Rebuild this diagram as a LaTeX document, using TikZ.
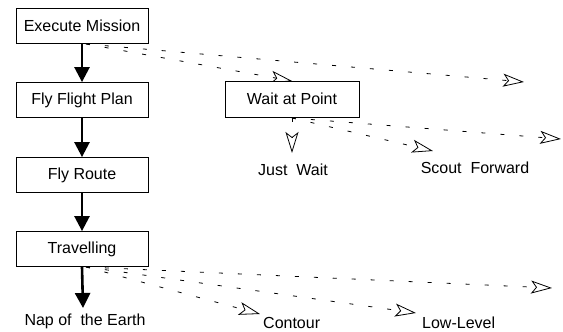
\documentclass[tikz,border=0pt]{standalone}
\usepackage{fontspec}
\setmainfont{Liberation Sans}
\usetikzlibrary{arrows.meta}
\begin{document}
\begin{tikzpicture}[x=1pt,y=-1pt,
  every node/.style={font=\fontsize{16}{19}\selectfont},
  taskbox/.style={draw,line width=0.8pt,fill=white,minimum width=132pt,minimum height=35pt,inner sep=0pt},
  seqarrow/.style={line width=2.6pt,-{Triangle[length=15pt,width=15pt]}},
  optarrow/.style={line width=0.8pt,dash pattern=on 4pt off 15pt,
    -{Stealth[open,length=21pt,width=13pt,inset=5pt,line width=0.8pt,sep=0pt]}},
  lbl/.style={inner sep=0pt}]
\useasboundingbox (0,0) rectangle (563,332);

% anchor points of the dashed option arrows
\coordinate (em-o) at (86,44);
\coordinate (tr-o) at (86,267);
\coordinate (wp-o) at (292,118);
\coordinate (em-far) at (524,82);
\coordinate (wp-far) at (561,139);
\coordinate (sf-tip) at (433,151);
\coordinate (jw-tip) at (292,153);
\coordinate (tr-far) at (552,288);
\coordinate (ll-tip) at (416,313);
\coordinate (ct-tip) at (260,314);
\coordinate (ne-tip) at (83,308);

% dashed option arrows (drawn first so boxes sit on top)
\draw[optarrow] (em-o) -- (em-far);
\draw[optarrow] (em-o) -- (292,81);
\draw[optarrow] (wp-o) -- (wp-far);
\draw[optarrow] (wp-o) -- (sf-tip);
\draw[optarrow] (wp-o) -- (jw-tip);
\draw[optarrow] (tr-o) -- (tr-far);
\draw[optarrow] (tr-o) -- (ll-tip);
\draw[optarrow] (tr-o) -- (ct-tip);

% task boxes
\node[taskbox] (em) at (82,25.5) {Execute Mission};
\node[taskbox] (ffp) at (82,100) {Fly Flight Plan};
\node[taskbox] (fr) at (82,175) {Fly Route};
\node[taskbox] (tr) at (82,249) {Travelling};
\node[taskbox,minimum width=134pt,minimum height=36pt] (wp) at (292,99) {Wait at Point};

% labels of the leaf options
\node[lbl] (jw) at (293,170) {Just\ \ Wait};
\node[lbl] (sf) at (475,168) {Scout\ \ Forward};
\node[lbl] (ne) at (85,321) {Nap of\ \ the Earth};
\node[lbl,anchor=west] (ct) at (263,323) {Contour};
\node[lbl,anchor=west] (ll) at (422,323) {Low-Level};

% main sequence
\draw[seqarrow] (em.south) -- (ffp.north);
\draw[seqarrow] (ffp.south) -- (fr.north);
\draw[seqarrow] (fr.south) -- (tr.north);
\draw[seqarrow] (tr.south) -- (ne-tip);
\end{tikzpicture}
\end{document}
